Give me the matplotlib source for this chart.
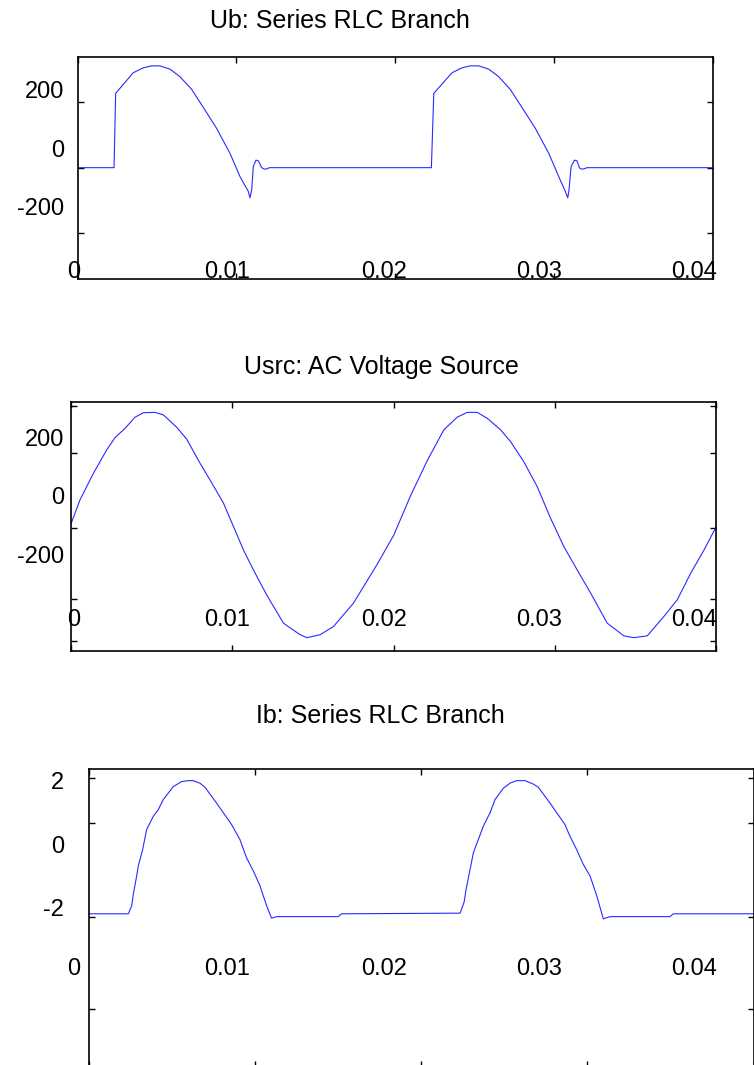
import numpy as np
import matplotlib.pyplot as plt

plt.rcParams['font.family'] = ['Liberation Sans', 'DejaVu Sans']

# Ub: Series RLC Branch (V)
t_ub = [0, 0.00229, 0.00239, 0.00350, 0.00413, 0.00466, 0.00518, 0.00581, 0.00644, 0.00718,
        0.00802, 0.00875, 0.00959, 0.01022, 0.01075, 0.01085, 0.01096, 0.01106, 0.01123, 0.01138,
        0.01159, 0.01174, 0.01190, 0.01207,
        0.02228, 0.02243, 0.02358, 0.02421, 0.02473, 0.02526, 0.02589, 0.02652, 0.02725, 0.02809,
        0.02883, 0.02967, 0.03030, 0.03072, 0.03087, 0.03095, 0.03108, 0.03129, 0.03145, 0.03160,
        0.03170, 0.03187, 0.03208, 0.04]
ub = [0, 0, 227, 290, 305, 311, 311, 301, 278, 239,
      176, 120, 44, -27, -73, -92, -68, 3, 23, 21,
      0, -4, -4, 0,
      0, 227, 290, 305, 311, 311, 301, 278, 239, 176,
      120, 44, -27, -73, -92, -68, 3, 23, 21, 0,
      -4, -4, 0, 0]

# Usrc: AC Voltage Source (V)
t_src = [0, 0.00056, 0.00139, 0.00221, 0.00273, 0.00335, 0.00397, 0.00449, 0.00521, 0.00573,
         0.00655, 0.00717, 0.00800, 0.00862, 0.00945, 0.01007, 0.01069, 0.01131, 0.01213, 0.01317,
         0.01420, 0.01462, 0.01544, 0.01627, 0.01751, 0.01896, 0.02001, 0.02104, 0.02208, 0.02311,
         0.02394, 0.02456, 0.02518, 0.02580, 0.02663, 0.02725, 0.02807, 0.02890, 0.02973, 0.03055,
         0.03138, 0.03221, 0.03324, 0.03427, 0.03489, 0.03572, 0.03675, 0.03758, 0.03841, 0.03924,
         0.04]
usrc = [10, 75, 146, 209, 242, 267, 297, 309, 310, 303,
        270, 238, 173, 128, 66, 3, -60, -114, -181, -257,
        -288, -296, -288, -266, -203, -100, -20, 85, 180, 263,
        297, 310, 310, 294, 263, 231, 177, 110, 25, -51,
        -114, -176, -257, -291, -296, -291, -239, -194, -123, -60,
        3]

# Ib: Series RLC Branch (A)
t_ib = [0, 0.00237, 0.00257, 0.00267, 0.00287, 0.00297, 0.00323, 0.00347, 0.00387, 0.00417,
        0.00447, 0.00507, 0.00557, 0.00596, 0.00628, 0.00668, 0.00698, 0.00768, 0.00858, 0.00908,
        0.00948, 0.00989, 0.01029, 0.01069, 0.01099, 0.01129, 0.01500, 0.01520,
        0.02234, 0.02258, 0.02270, 0.02294, 0.02314, 0.02344, 0.02374, 0.02414, 0.02444, 0.02494,
        0.02534, 0.02574, 0.02625, 0.02675, 0.02705, 0.02775, 0.02865, 0.02895, 0.02935, 0.02975,
        0.03016, 0.03056, 0.03096, 0.03136, 0.03497, 0.03517, 0.04]
ib = [-2.20, -2.20, -1.94, -1.57, -1.00, -0.68, -0.16, 0.47, 0.89, 1.10,
      1.42, 1.83, 1.99, 2.02, 2.02, 1.94, 1.81, 1.31, 0.63, 0.16,
      -0.42, -0.84, -1.31, -1.94, -2.34, -2.29, -2.29, -2.20,
      -2.18, -1.83, -1.42, -0.79, -0.26, 0.16, 0.58, 1.00, 1.42, 1.78,
      1.94, 2.02, 2.02, 1.91, 1.81, 1.31, 0.63, 0.26, -0.16, -0.63,
      -1.00, -1.62, -2.36, -2.29, -2.29, -2.20, -2.20]

titles = ['Ub: Series RLC Branch', 'Usrc: AC Voltage Source', 'Ib: Series RLC Branch']
xtick_labels = ['0', '0.01', '0.02', '0.03', '0.04']
ytick_labels = [['200', '0', '-200'], ['200', '0', '-200'], ['2', '0', '-2']]

W, H = 754, 1065
fig = plt.figure(figsize=(W / 100, H / 100), dpi=100)


def px_axes(left, top, right, bottom):
    return fig.add_axes([left / W, 1 - bottom / H, (right - left) / W, (bottom - top) / H])


def px_text(x, y, s, size, ha):
    fig.text(x / W, 1 - y / H, s, fontsize=size, ha=ha, va='baseline')


ax1 = px_axes(77.7, 56.7, 712.7, 279.3)
ax1.plot(t_ub, ub, color='#2a2aff', lw=0.8)
ax1.set_ylim(-341, 339)
ax1.set_yticks([-200, 0, 200])

ax2 = px_axes(71, 402.3, 716.3, 650.7)
ax2.plot(t_src, usrc, color='#2a2aff', lw=0.8)
ax2.set_ylim(-331, 337)
ax2.set_yticks([-306, -192, 0, 200, 328])

ax3 = px_axes(89, 769.3, 753.5, 1066.5)
ax3.plot(t_ib, ib, color='#2a2aff', lw=0.8)
ax3.set_ylim(-7.04, 2.38)
ax3.set_yticks([-5.22, -2.30, 0.68, 2.11])

for ax in (ax1, ax2, ax3):
    ax.set_xlim(0, 0.04)
    ax.set_xticks([0, 0.01, 0.02, 0.03, 0.04])
    ax.tick_params(direction='in', length=4.5, width=1.0, top=True, right=True,
                   labelleft=False, labelbottom=False)
    for sp in ax.spines.values():
        sp.set_linewidth(1.2)

# titles and tick labels (offset from the tick marks, as in the original export)
title_pos = [(339.5, 28.3), (381, 374.3), (380, 723.3)]
ylab_base = [[98.3, 156.7, 215], [446, 504, 562.7], [789.3, 853.3, 916]]
xlab_base = [278.3, 626, 975]
xlab_x = [74, 227, 384, 539, 694]

for i in range(3):
    px_text(title_pos[i][0], title_pos[i][1], titles[i], 18, 'center')
    for lab, yb in zip(ytick_labels[i], ylab_base[i]):
        px_text(64, yb, lab, 17, 'right')
    for lab, xc in zip(xtick_labels, xlab_x):
        px_text(xc, xlab_base[i], lab, 17, 'center')

fig.savefig('out.png', dpi=100)
